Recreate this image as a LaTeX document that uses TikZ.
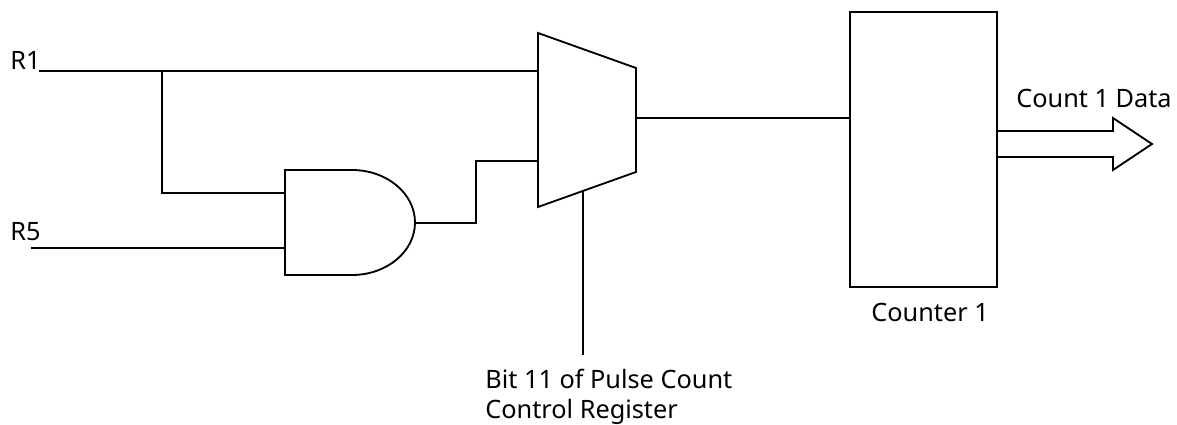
\documentclass[tikz,border=0pt]{standalone}
\usepackage{fontspec}
\setmainfont{Noto Sans}
\usepackage{tikz}
\begin{document}
\begin{tikzpicture}[
        x=0.02cm, y=-0.02cm,
        wire/.style={draw, line width=1.05pt, line join=miter},
        label/.style={anchor=base west, inner sep=0pt, font=\fontsize{14.4}{17}\selectfont},
        counter/.style={rectangle, draw, line width=1.05pt, minimum width=2.94cm, minimum height=5.5cm}
    ]
        \useasboundingbox (0,0) rectangle (1177,425);

        % Mux
        \coordinate (muxa) at (538,33);
        \coordinate (muxb) at (636,68);
        \coordinate (muxc) at (636,172);
        \coordinate (muxd) at (538,207);
        \coordinate (muxin1) at (538,71);
        \coordinate (muxin2) at (538,161);
        \coordinate (muxout) at (636,118);
        \coordinate (muxsel) at (583,191);
        \draw[wire] (muxa) -- (muxb) -- (muxc) -- (muxd) -- cycle;

        % And gate
        \coordinate (anda) at (285,170);
        \coordinate (andb) at (285,275);
        \coordinate (andin1) at (285,193);
        \coordinate (andin2) at (285,248);
        \coordinate (andout) at (415,223);
        \draw[wire] (andb) -- (anda) -- (352,170) arc[start angle=-90, end angle=90, x radius=63, y radius=52.5] -- cycle;

        % Counter 1
        \node[counter] (cnt) at (923.5,149.5) {};
        \coordinate (cntin) at (cnt.west |- muxout);
        \node[label] (cntname) at (871,322) {Counter 1};

        % Inputs
        \node[label] (r1) at (10,70) {R1};
        \node[label] (r5) at (10,241) {R5};
        \coordinate (r1end) at (39,71);
        \coordinate (r5end) at (31,248);
        \coordinate (tap) at (162,71);

        \draw[wire] (r1end) -- (muxin1);
        \draw[wire] (tap) |- (andin1);
        \draw[wire] (r5end) -- (andin2);
        \draw[wire] (andout) -- (476,223) |- (muxin2);
        \draw[wire] (muxout) -- (cntin);

        % Select line
        \node[label] (bit) at (485,389) {Bit 11 of Pulse Count};
        \node[label] (reg) at (485,419) {Control Register};
        \coordinate (selend) at (583,355);
        \draw[wire] (muxsel) -- (selend);

        % Data output
        \coordinate (busa) at (cnt.east |- 0,131);
        \coordinate (busb) at (cnt.east |- 0,157);
        \draw[wire] (busa) -- (1113,131) -- (1113,118) -- (1152,144) -- (1113,170) -- (1113,157) -- (busb);
        \node[label] (data) at (1016,108) {Count 1 Data};
    \end{tikzpicture}
\end{document}
